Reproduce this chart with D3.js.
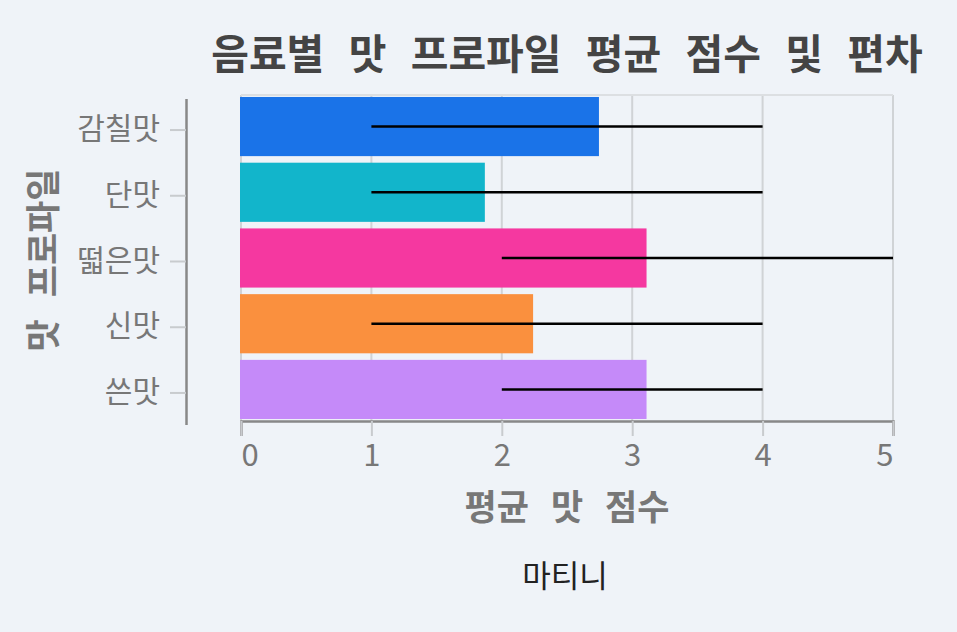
<!DOCTYPE html>
<html>
<head>
<meta charset="utf-8">
<script src="https://cdn.jsdelivr.net/npm/d3@7"></script>
<style>
  body { margin: 0; background: #eff3f8; }
  svg text { font-family: "Noto Sans CJK KR", "Noto Sans", sans-serif; }
</style>
</head>
<body>
<svg id="chart" width="957" height="632"></svg>
<script>
    // data
    const profiles = ["감칠맛", "단맛", "떫은맛", "신맛", "쓴맛"];
    const meanScores = [2.745, 1.87, 3.11, 2.24, 3.11];
    const minScores = [1, 1, 2, 1, 2];
    const maxScores = [4, 4, 5, 4, 4];
    const xTicks = [0, 1, 2, 3, 4, 5];
    const colors = ["#1a73e8", "#12b5cb", "#f538a0", "#fa903e", "#c58af9"];

    const width = 957;
    const height = 632;
    const margin = { top: 95, right: 64, bottom: 211, left: 241 };
    const innerRight = width - margin.right;
    const innerBottom = height - margin.bottom;

    const svg = d3.select("#chart");

    svg.append("rect")
        .attr("width", width)
        .attr("height", height)
        .attr("fill", "#eff3f8");

    const xScale = d3
        .scaleLinear()
        .domain([0, 5])
        .range([margin.left, innerRight]);

    const yScale = d3
        .scaleBand()
        .domain(profiles)
        .range([margin.top, innerBottom])
        .paddingInner(0.1)
        .paddingOuter(0.03);

    const colorScale = d3.scaleOrdinal().domain(profiles).range(colors);

    // grid lines
    svg.append("g")
        .selectAll("line")
        .data(xTicks)
        .enter()
        .append("line")
        .attr("x1", d => xScale(d))
        .attr("x2", d => xScale(d))
        .attr("y1", margin.top)
        .attr("y2", innerBottom)
        .attr("stroke", "#d0d3d6")
        .attr("stroke-width", 2);

    // top border of the view
    svg.append("line")
        .attr("x1", margin.left)
        .attr("x2", innerRight)
        .attr("y1", margin.top)
        .attr("y2", margin.top)
        .attr("stroke", "#dcdfe2")
        .attr("stroke-width", 2);

    // bars
    svg.append("g")
        .selectAll("rect")
        .data(profiles)
        .enter()
        .append("rect")
        .attr("x", xScale(0) - 1)
        .attr("y", d => yScale(d))
        .attr("width", (d, i) => xScale(meanScores[i]) - xScale(0) + 1)
        .attr("height", yScale.bandwidth())
        .attr("fill", d => colorScale(d));

    // min-max lines
    svg.append("g")
        .selectAll("line")
        .data(profiles)
        .enter()
        .append("line")
        .attr("x1", (d, i) => xScale(minScores[i]))
        .attr("x2", (d, i) => xScale(maxScores[i]))
        .attr("y1", d => yScale(d) + yScale.bandwidth() / 2)
        .attr("y2", d => yScale(d) + yScale.bandwidth() / 2)
        .attr("stroke", "#000")
        .attr("stroke-width", 2.5);

    // x axis
    const xAxis = d3.axisBottom(xScale)
        .tickValues(xTicks)
        .tickSize(15)
        .tickPadding(8)
        .tickFormat(d3.format("d"));

    const gx = svg.append("g")
        .attr("transform", `translate(0, ${innerBottom})`)
        .call(xAxis);
    gx.select(".domain").attr("stroke", "#888").attr("stroke-width", 2.5);
    gx.selectAll(".tick line").attr("stroke", "#c8cbce").attr("stroke-width", 2);
    gx.selectAll(".tick text")
        .style("fill", "#777")
        .style("font-size", "31px")
        .attr("dy", "0.72em")
        .attr("text-anchor", (d, i) => i === 0 ? "start" : (i === xTicks.length - 1 ? "end" : "middle"));

    // y axis (offset to the left)
    const yAxis = d3.axisLeft(yScale)
        .tickSize(16)
        .tickPadding(10)
        .tickSizeOuter(0);

    const gy = svg.append("g")
        .attr("transform", `translate(186, 3.5)`)
        .call(yAxis);
    gy.select(".domain").attr("stroke", "#888").attr("stroke-width", 2.5);
    gy.selectAll(".tick line").attr("stroke", "#c8cbce").attr("stroke-width", 2);
    gy.selectAll(".tick text")
        .style("fill", "#777")
        .style("font-size", "30px")
        .attr("dy", "0.3em");

    // chart title
    svg.append("text")
        .attr("x", (margin.left + innerRight) / 2)
        .attr("y", 69)
        .attr("text-anchor", "middle")
        .style("fill", "#444")
        .style("font-size", "41px")
        .style("font-weight", "bold")
        .style("word-spacing", "15px")
        .text("음료별 맛 프로파일 평균 점수 및 편차");

    // x axis label
    svg.append("text")
        .attr("x", (margin.left + innerRight) / 2)
        .attr("y", 520)
        .attr("text-anchor", "middle")
        .style("fill", "#777")
        .style("font-size", "35px")
        .style("font-weight", "bold")
        .style("word-spacing", "14px")
        .text("평균 맛 점수");

    // y axis label
    svg.append("text")
        .attr("transform", "rotate(-90)")
        .attr("x", -260)
        .attr("y", 56)
        .attr("text-anchor", "middle")
        .style("fill", "#777")
        .style("font-size", "35px")
        .style("font-weight", "bold")
        .style("word-spacing", "14px")
        .text("맛 프로파일");

    // facet footer
    svg.append("text")
        .attr("x", 565)
        .attr("y", 587)
        .attr("text-anchor", "middle")
        .style("fill", "#222")
        .style("font-size", "31px")
        .text("마티니");
</script>
</body>
</html>
